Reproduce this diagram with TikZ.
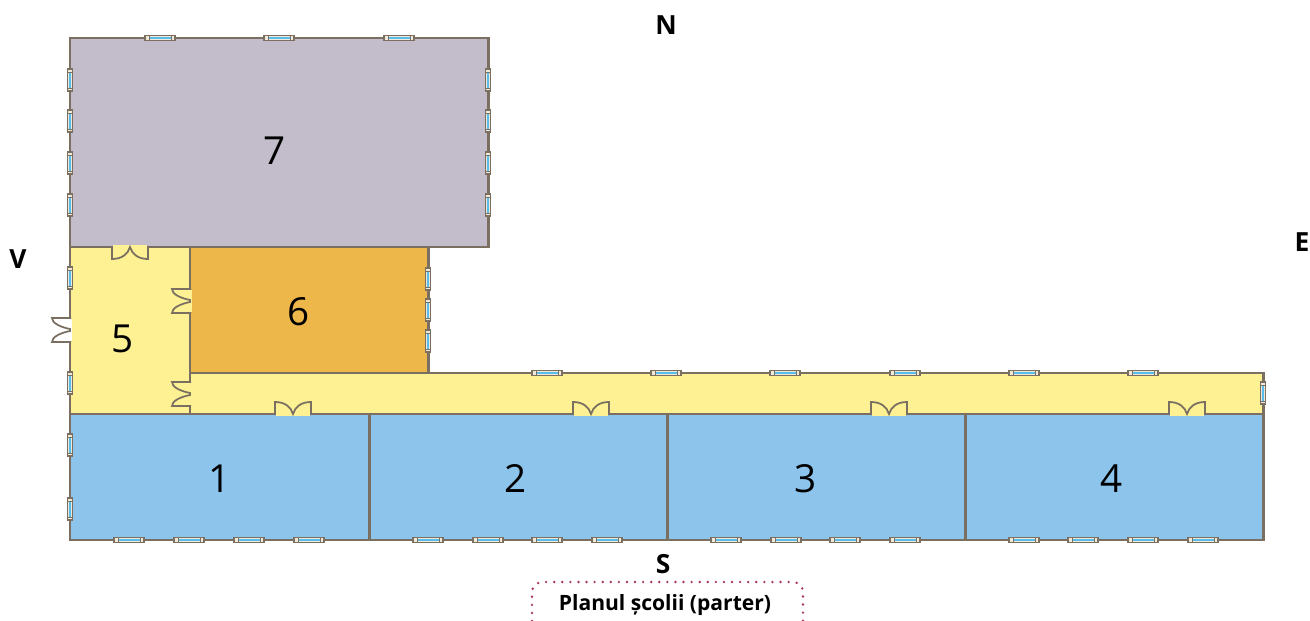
\documentclass[tikz,border=0pt]{standalone}
\usepackage{fontspec}
\setmainfont{Open Sans}
\definecolor{wall}{HTML}{7A6F60}
\definecolor{roomgray}{HTML}{C2BCCB}
\definecolor{roomyellow}{HTML}{FDF193}
\definecolor{roomorange}{HTML}{EDB749}
\definecolor{roomblue}{HTML}{8CC4EC}
\definecolor{glass}{HTML}{58BDEC}
\definecolor{framebg}{HTML}{EFE9D8}
\definecolor{dotline}{HTML}{A8345F}
\tikzset{
  pics/winh/.style={code={
    \draw[wall,line width=.7pt,fill=framebg] (-15,-2.5) rectangle (15,2.5);
    \fill[glass] (-11,-1.4) rectangle (11,1.4);
    \draw[wall,line width=.4pt] (-11,-2.5) -- (-11,2.5) (11,-2.5) -- (11,2.5);
  }},
  pics/winv/.style={code={
    \draw[wall,line width=.7pt,fill=framebg] (-2.5,-11) rectangle (2.5,11);
    \fill[glass] (-1.4,-8) rectangle (1.4,8);
    \draw[wall,line width=.4pt] (-2.5,-8) -- (2.5,-8) (-2.5,8) -- (2.5,8);
  }},
  pics/doorh/.style={code={
    \draw[#1,line width=2pt] (-17,0) -- (17,0);
    \draw[wall,line width=1pt] (-18,1) -- (-18,-12) .. controls (-8,-12) and (-2,-7) .. (0,0) .. controls (2,-7) and (8,-12) .. (18,-12) -- (18,1);
  }},
  pics/doorv/.style={code={
    \draw[#1,line width=2pt] (0,-11) -- (0,11);
    \draw[wall,line width=1pt] (1,-12) -- (-18,-12) .. controls (-18,-7) and (-10,-3) .. (0,-1) -- (0,1) .. controls (-10,3) and (-18,7) .. (-18,12) -- (1,12);
  }}
}
\begin{document}
\begin{tikzpicture}[x=.02cm,y=-.02cm]
\tikzstyle{every node}=[inner sep=0pt, text=black]
\tikzstyle{room}=[draw=wall, line width=1.7pt, line join=miter]
\tikzstyle{num}=[font=\fontsize{22}{22}\selectfont]
\tikzstyle{side}=[font=\fontsize{15}{15}\selectfont\bfseries]
\useasboundingbox (0,0) rectangle (1310,621);
\draw[room,fill=roomgray] (70,38) rectangle (488,247);
\draw[room,fill=roomyellow] (70,247) rectangle (190,414);
\draw[room,fill=roomorange] (190,247) rectangle (428,373);
\draw[room,fill=roomyellow] (190,373) rectangle (1263,414);
\draw[room,fill=roomblue] (70,414) rectangle (369,540);
\draw[room,fill=roomblue] (369,414) rectangle (667,540);
\draw[room,fill=roomblue] (667,414) rectangle (965,540);
\draw[room,fill=roomblue] (965,414) rectangle (1263,540);
\draw (160,38) pic {winh};
\draw (279,38) pic {winh};
\draw (399,38) pic {winh};
\draw (70,80) pic {winv};
\draw (70,121) pic {winv};
\draw (70,163) pic {winv};
\draw (70,205) pic {winv};
\draw (488,80) pic {winv};
\draw (488,121) pic {winv};
\draw (488,163) pic {winv};
\draw (488,205) pic {winv};
\draw (428,279) pic {winv};
\draw (428,310) pic {winv};
\draw (428,341) pic {winv};
\draw (70,278) pic {winv};
\draw (70,383) pic {winv};
\draw (70,445) pic {winv};
\draw (70,509) pic {winv};
\draw (1263,393) pic {winv};
\draw (547,373) pic {winh};
\draw (666,373) pic {winh};
\draw (785,373) pic {winh};
\draw (905,373) pic {winh};
\draw (1024,373) pic {winh};
\draw (1143,373) pic {winh};
\draw (129,540) pic {winh};
\draw (189,540) pic {winh};
\draw (249,540) pic {winh};
\draw (309,540) pic {winh};
\draw (428,540) pic {winh};
\draw (488,540) pic {winh};
\draw (547,540) pic {winh};
\draw (607,540) pic {winh};
\draw (726,540) pic {winh};
\draw (786,540) pic {winh};
\draw (845,540) pic {winh};
\draw (905,540) pic {winh};
\draw (1024,540) pic {winh};
\draw (1083,540) pic {winh};
\draw (1143,540) pic {winh};
\draw (1203,540) pic {winh};
\draw (293,414) pic {doorh=roomyellow};
\draw (591,414) pic {doorh=roomyellow};
\draw (889,414) pic {doorh=roomyellow};
\draw (1187,414) pic {doorh=roomyellow};
\draw (130,247) pic[yscale=-1] {doorh=roomyellow};
\draw (190,301) pic {doorv=roomyellow};
\draw (190,394) pic {doorv=roomyellow};
\draw (70,330) pic {doorv=white};
\draw (275,151) node (n7) [num] {7};
\draw (299,312) node (n6) [num] {6};
\draw (123,339) node (n5) [num] {5};
\draw (220,479) node (n1) [num] {1};
\draw (516,479) node (n2) [num] {2};
\draw (806,479) node (n3) [num] {3};
\draw (1112,479) node (n4) [num] {4};
\draw (666,25) node (north) [side] {N};
\draw (18,259) node (west) [side] {V};
\draw (1302,242) node (east) [side] {E};
\draw (663,564) node (south) [side] {S};
\draw (665,605) node (caption) [font=\fontsize{12}{12}\selectfont\bfseries] {Planul școlii (parter)};
\draw[dotline,line width=1.5pt,line cap=round,dash pattern=on 0pt off 4.6pt,rounded corners=6pt] (532,621) -- (532,582) -- (803,582) -- (803,621);
\end{tikzpicture}
\end{document}
